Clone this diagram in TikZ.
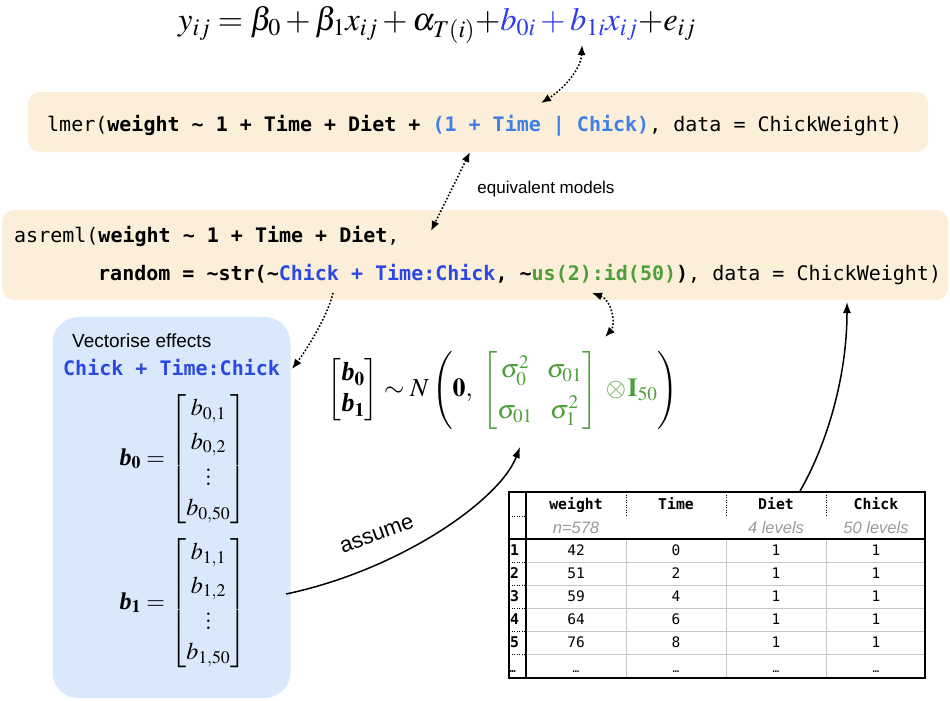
\documentclass[tikz,border=0pt]{standalone}
\usepackage{amsmath}
\usepackage{mathptmx}
\usepackage[no-math]{fontspec}
\setmainfont{Liberation Serif}
\setsansfont{Liberation Sans}
\setmonofont{DejaVu Sans Mono}
\usetikzlibrary{arrows.meta}
\definecolor{eqblue}{HTML}{2E3BEA}
\definecolor{lmblue}{HTML}{3F7FE8}
\definecolor{asblue}{HTML}{2C48E2}
\definecolor{grn}{HTML}{4E9E3A}
\definecolor{cream}{HTML}{FBEFD9}
\definecolor{paleblue}{HTML}{DAE8FB}
\definecolor{gridgray}{HTML}{C8C8C8}
\definecolor{subgray}{HTML}{9A9A9A}
\newcommand{\bvec}{\text{\bfseries\itshape b}}
\newcommand{\vdts}{\vcenter{\baselineskip=7pt\lineskiplimit=-10pt\hbox{$.$}\hbox{$.$}\hbox{$.$}\kern-2pt}}
\tikzset{
  codebox/.style={fill=cream, rounded corners=12pt, draw=none, inner sep=0pt},
  vecbox/.style={fill=paleblue, rounded corners=26pt, draw=none, inner sep=0pt},
  code/.style={font=\fontsize{20}{24}\selectfont\ttfamily, inner sep=0pt, anchor=base west},
  dotboth/.style={line width=1.6pt, dash pattern=on 1.6pt off 1.9pt,
    {Latex[length=10pt,width=8pt]}-{Latex[length=10pt,width=8pt]}},
  dotone/.style={line width=1.6pt, dash pattern=on 1.6pt off 1.9pt,
    -{Latex[length=10pt,width=8pt]}},
  solidarrow/.style={line width=1.5pt, -{Latex[length=11pt,width=8pt]}},
  tabhead/.style={font=\fontsize{14.8}{17}\selectfont\ttfamily\bfseries, inner sep=0pt, anchor=base},
  tabcell/.style={font=\fontsize{14.5}{17}\selectfont\ttfamily, inner sep=0pt, anchor=base},
  tabsub/.style={font=\fontsize{16.5}{19}\selectfont\sffamily\itshape, text=subgray, inner sep=0pt, anchor=base},
  tabidx/.style={font=\fontsize{14.8}{17}\selectfont\ttfamily\bfseries, inner sep=0pt, anchor=base west},
  tabdot/.style={line width=0.9pt, dash pattern=on 1.2pt off 1.3pt},
  tabgrid/.style={draw=gridgray, line width=0.8pt},
}
\begin{document}
\begin{tikzpicture}[x=1pt,y=-1pt]
\useasboundingbox (0,0) rectangle (950,701);
% boxes
\node[codebox, minimum width=900pt, minimum height=60pt] (lmerbox) at (478,122) {};
\node[codebox, minimum width=946pt, minimum height=90pt] (asbox) at (475,255) {};
\node[vecbox, minimum width=238pt, minimum height=381pt] (vecbox) at (171.5,507.5) {};
% top equation
\node[anchor=base, inner sep=0pt, font=\fontsize{32.5}{38}\selectfont] (eq) at (437,31)
  {$y_{ij} = \beta_0 + \beta_1 x_{ij} + \alpha_{T(i)}{+}\textcolor{eqblue}{b_{0i} + b_{1i}x_{ij}}{+}e_{ij}$};
% code
\node[code] (lmertext) at (47,131)
  {lmer(\textbf{weight \textasciitilde{} 1 + Time + Diet +} \textcolor{lmblue}{\textbf{(1 + Time | Chick)}}, data = ChickWeight)};
\node[code] (as1) at (14,242)
  {asreml(\textbf{weight \textasciitilde{} 1 + Time + Diet},};
\node[code] (as2) at (98,280)
  {\textbf{random = \textasciitilde{}str(\textasciitilde{}\textcolor{asblue}{Chick + Time:Chick}, \textasciitilde{}\textcolor{grn}{us(2):id(50)})}, data = ChickWeight)};
\node[font=\fontsize{17}{20}\selectfont\sffamily, inner sep=0pt] (equiv) at (546,189) {equivalent models};
% vectorise box
\node[anchor=base west, inner sep=0pt, font=\fontsize{19}{22}\selectfont\sffamily] (vectitle) at (72,347) {Vectorise effects};
\node[code, text=asblue] (vecterm) at (63,375) {\textbf{Chick + Time:Chick}};
\node[inner sep=0pt, font=\fontsize{24}{29}\selectfont] (bzero) at (183,459)
  {\renewcommand\arraystretch{1.15}$\bvec_{\mathbf 0} = \begin{bmatrix} b_{0,1}\\ b_{0,2}\\ \vdts\\ b_{0,50}\end{bmatrix}$};
\node[inner sep=0pt, font=\fontsize{24}{29}\selectfont] (bone) at (183,603)
  {\renewcommand\arraystretch{1.15}$\bvec_{\mathbf 1} = \begin{bmatrix} b_{1,1}\\ b_{1,2}\\ \vdts\\ b_{1,50}\end{bmatrix}$};
% distribution
\node[inner sep=0pt, font=\fontsize{26}{31}\selectfont] (dist) at (503,390)
  {$\begin{bmatrix}\bvec_{\mathbf 0}\\ \bvec_{\mathbf 1}\end{bmatrix} \sim N\left(\mathbf{0},\ {\color{grn}\renewcommand\arraystretch{1.3}\setlength\arraycolsep{7pt}\begin{bmatrix}\sigma_0^2 & \sigma_{01}\\ \sigma_{01} & \sigma_1^2\end{bmatrix} \mkern4mu{\otimes}\mkern1mu \mathbf{I}_{50}}\right)$};
% assume label
\node[rotate=20, inner sep=0pt, font=\fontsize{22}{26}\selectfont\sffamily] (assumelbl) at (377,535) {assume};
% table
\foreach \y in {562,585,608,631,654} \draw[tabgrid] (526,\y) -- (925,\y);
\foreach \x in {626,726,826} \draw[tabgrid] (\x,539) -- (\x,678);
\foreach \x in {626,726,826} \draw[tabdot] (\x,492) -- (\x,516);
\foreach \y in {516,562,585,608,631,654} \draw[tabdot] (509,\y) -- (526,\y);
\draw[line width=1.2pt] (526,492) -- (526,678);
\draw[line width=1.2pt] (509,539) -- (925,539);
\node[draw, line width=1.2pt, minimum width=416pt, minimum height=186pt, inner sep=0pt] (tbl) at (717,585) {};
\node[tabhead] (h1) at (576,509) {weight};
\node[tabhead] (h2) at (676,509) {Time};
\node[tabhead] (h3) at (776,509) {Diet};
\node[tabhead] (h4) at (876,509) {Chick};
\node[tabsub] (s1) at (576,533) {n=578};
\node[tabsub] (s3) at (776,533) {4 levels};
\node[tabsub] (s4) at (876,533) {50 levels};
\foreach \i/\w/\t [count=\k] in {1/42/0,2/51/2,3/59/4,4/64/6,5/76/8} {
  \pgfmathsetmacro\yy{539+23*\k-6.5}
  \node[tabidx] (i\k) at (510,\yy) {\i};
  \node[tabcell] (w\k) at (576,\yy) {\w};
  \node[tabcell] (t\k) at (676,\yy) {\t};
  \node[tabcell] (d\k) at (776,\yy) {1};
  \node[tabcell] (c\k) at (876,\yy) {1};
}
\node[tabidx, font=\fontsize{11}{12}\selectfont\ttfamily\bfseries] (i6) at (509,672) {…};
\node[tabcell, font=\fontsize{11}{12}\selectfont\ttfamily] (w6) at (576,672) {…};
\node[tabcell, font=\fontsize{11}{12}\selectfont\ttfamily] (t6) at (676,672) {…};
\node[tabcell, font=\fontsize{11}{12}\selectfont\ttfamily] (d6) at (776,672) {…};
\node[tabcell, font=\fontsize{11}{12}\selectfont\ttfamily] (c6) at (876,672) {…};
% connector end points
\coordinate (eqtip) at (582,45);
\coordinate (lmtop) at (541,103);
\coordinate (lmbot) at (470,152);
\coordinate (astop) at (431,231);
\coordinate (asvec) at (333,293);
\coordinate (vecend) at (292,369);
\coordinate (asus) at (592,293);
\coordinate (disttop) at (605,337);
\coordinate (assstart) at (286,594);
\coordinate (assend) at (520,447);
\coordinate (tbltop) at (800,491);
\coordinate (asbot) at (847,302);
% connectors
\draw[dotboth] (eqtip) .. controls (581,70) and (562,90) .. (lmtop);
\draw[dotboth] (lmbot) -- (astop);
\draw[dotone] (asvec) .. controls (327,318) and (305,352) .. (vecend);
\draw[dotboth] (asus) .. controls (612,300) and (616,325) .. (disttop);
\draw[solidarrow] (assstart) .. controls (400,570) and (500,500) .. (assend);
\draw[solidarrow] (tbltop) .. controls (825,448) and (847,380) .. (asbot);
\end{tikzpicture}
\end{document}
